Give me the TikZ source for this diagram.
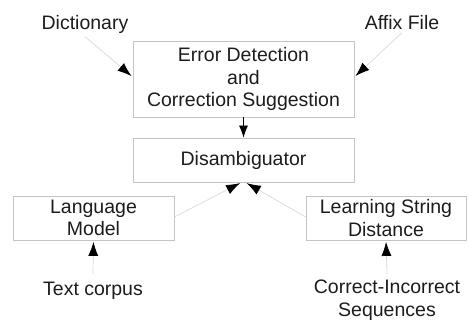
\documentclass[tikz,border=0pt]{standalone}
\usepackage{fontspec}
\setmainfont{Liberation Sans}
\usepackage{xcolor}
\usetikzlibrary{arrows.meta}
\definecolor{boxline}{HTML}{C4C4C4}
\definecolor{feedline}{HTML}{D9D9D9}
\definecolor{ink}{HTML}{1C1C1C}

\begin{document}
\begin{tikzpicture}[x=1pt,y=-1pt,
        every node/.style={text=ink,font=\fontsize{19.5}{22.5}\selectfont,inner sep=3pt},
        module/.style={draw=boxline,line width=0.8pt,align=center},
        source/.style={align=center,anchor=north},
        feed/.style={draw=feedline,line width=0.7pt,shorten >=1.5pt,-{Latex[color=black,length=14pt,width=10pt]}},
        pass/.style={draw=black,line width=0.8pt,-{Latex[length=12pt,width=9pt]}}]
    \useasboundingbox (0,0) rectangle (469,320);
    \node[source] (dict) at (85,12){Dictionary};
    \node[source] (affix) at (402,12){Affix File};
    \node[module,minimum width=221pt,minimum height=76pt] (detect) at (243.5,79)
        {Error Detection\\and\\Correction Suggestion};
    \node[module,minimum width=221pt,minimum height=44pt] (disamb) at (243.5,160){Disambiguator};
    \node[module,minimum width=161pt,minimum height=44pt] (langmodel) at (93.5,218){Language\\Model};
    \node[module,minimum width=160pt,minimum height=44pt] (strdist) at (386,218){Learning String\\Distance};
    \node[source] (corpus) at (93,279){Text corpus};
    \node[source] (pairs) at (387,277){Correct-Incorrect\\Sequences};
    \draw[feed] (dict.south) -- ([yshift=2pt]detect.west);
    \draw[feed] (affix.south) -- ([yshift=2pt]detect.east);
    \draw[pass] (detect.south) -- (disamb.north);
    \draw[feed] ([yshift=1pt]langmodel.east) -- ([xshift=-2pt]disamb.south);
    \draw[feed] ([yshift=1pt]strdist.west) -- ([xshift=2pt]disamb.south);
    \draw[feed] ([yshift=5pt]corpus.north) -- (langmodel.south);
    \draw[feed] ([yshift=3pt]pairs.north) -- (strdist.south);
\end{tikzpicture}
\end{document}
